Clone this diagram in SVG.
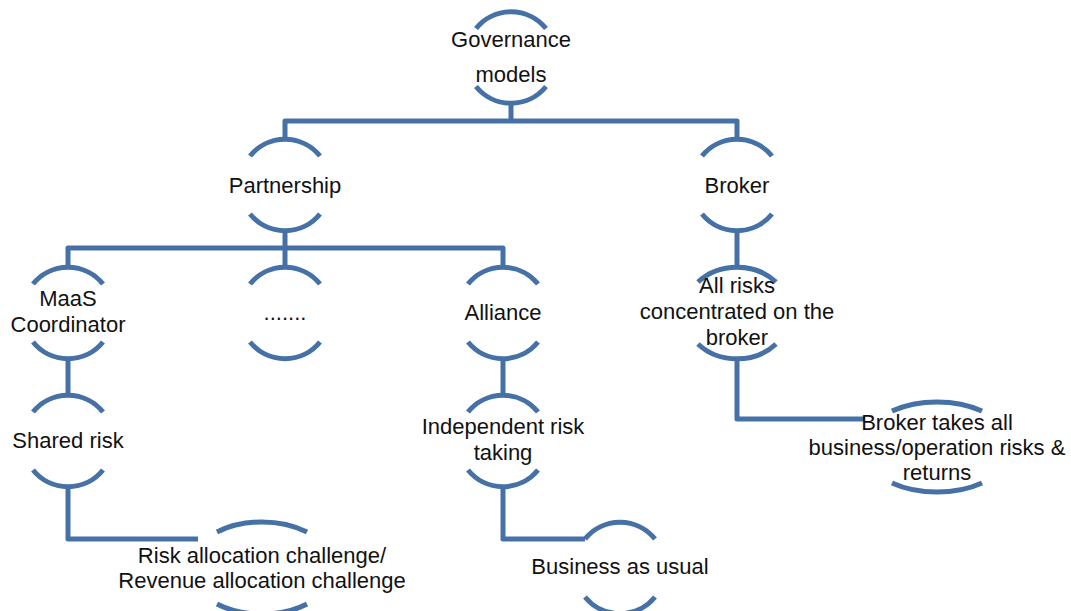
<svg xmlns="http://www.w3.org/2000/svg" width="1071" height="611" viewBox="0 0 1071 611">
<style>
.c{fill:none;stroke:#4671a7;stroke-width:5;stroke-linejoin:round}
.a{fill:none;stroke:#4671a7;stroke-width:5}
text{font-family:"Liberation Sans",Arial,sans-serif;font-size:22px;fill:#111;text-anchor:middle}
</style>
<rect width="1071" height="611" fill="#fff"/>
<g id="connectors">
<polyline class="c" points="511,102 511,121"/>
<polyline class="c" points="285,139 285,121 737,121 737,139"/>
<polyline class="c" points="285,230 285,248"/>
<polyline class="c" points="68,268 68,248 503,248 503,268"/>
<polyline class="c" points="285,248 285,268"/>
<polyline class="c" points="737,230 737,268"/>
<polyline class="c" points="68,358 68,396"/>
<polyline class="c" points="503,358 503,396"/>
<polyline class="c" points="68,486 68,539 198,539"/>
<polyline class="c" points="503,486 503,539 585,539"/>
<polyline class="c" points="737,359 737,419 865,419"/>
</g>
<g id="n-governance">
<path class="a" d="M476,28.5 A45,45 0 0 1 546,28.5"/>
<path class="a" d="M476,86.5 A45,45 0 0 0 546,86.5"/>
<text x="511" y="47">Governance</text>
<text x="511" y="82">models</text>
</g>
<g id="n-partnership">
<path class="a" d="M250,156 A45,45 0 0 1 320,156"/>
<path class="a" d="M250,214 A45,45 0 0 0 320,214"/>
<text x="285" y="193">Partnership</text>
</g>
<g id="n-broker">
<path class="a" d="M702,156 A45,45 0 0 1 772,156"/>
<path class="a" d="M702,214 A45,45 0 0 0 772,214"/>
<text x="737" y="193">Broker</text>
</g>
<g id="n-maas">
<path class="a" d="M33,284 A45,45 0 0 1 103,284"/>
<path class="a" d="M33,342 A45,45 0 0 0 103,342"/>
<text x="68" y="306">MaaS</text>
<text x="68" y="332">Coordinator</text>
</g>
<g id="n-dots">
<path class="a" d="M250,284 A45,45 0 0 1 320,284"/>
<path class="a" d="M250,342 A45,45 0 0 0 320,342"/>
<text x="285" y="320">.......</text>
</g>
<g id="n-alliance">
<path class="a" d="M468,284 A45,45 0 0 1 538,284"/>
<path class="a" d="M468,342 A45,45 0 0 0 538,342"/>
<text x="503" y="320">Alliance</text>
</g>
<g id="n-allrisks">
<path class="a" d="M698,282 A53,46 0 0 1 776,282"/>
<path class="a" d="M698,344 A53,46 0 0 0 776,344"/>
<text x="737" y="293">All risks</text>
<text x="737" y="319">concentrated on the</text>
<text x="737" y="345">broker</text>
</g>
<g id="n-shared">
<path class="a" d="M33,412 A45,45 0 0 1 103,412"/>
<path class="a" d="M33,470 A45,45 0 0 0 103,470"/>
<text x="68" y="448">Shared risk</text>
</g>
<g id="n-independent">
<path class="a" d="M468,412 A45,45 0 0 1 538,412"/>
<path class="a" d="M468,470 A45,45 0 0 0 538,470"/>
<text x="503" y="434">Independent risk</text>
<text x="503" y="460">taking</text>
</g>
<g id="n-brokertakes">
<path class="a" d="M892,411 A74,44 0 0 1 982,411"/>
<path class="a" d="M892,483 A74,44 0 0 0 982,483"/>
<text x="937" y="430">Broker takes all</text>
<text x="937" y="455">business/operation risks &amp;</text>
<text x="937" y="480">returns</text>
</g>
<g id="n-riskalloc">
<path class="a" d="M217,532 A72,46 0 0 1 307,532"/>
<path class="a" d="M217,604 A72,46 0 0 0 307,604"/>
<text x="262" y="563">Risk allocation challenge/</text>
<text x="262" y="588">Revenue allocation challenge</text>
</g>
<g id="n-business">
<path class="a" d="M585,539 A45,45 0 0 1 655,539"/>
<path class="a" d="M585,597 A45,45 0 0 0 655,597"/>
<text x="620" y="574">Business as usual</text>
</g>
</svg>
